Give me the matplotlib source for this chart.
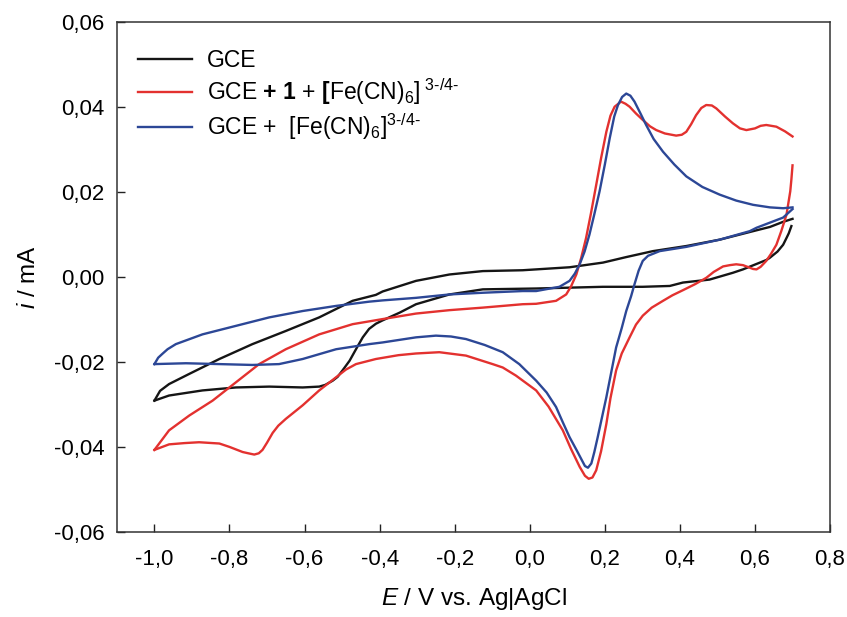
import numpy as np
import matplotlib
matplotlib.use("Agg")
import matplotlib.pyplot as plt
from matplotlib.ticker import FuncFormatter

plt.rcParams['font.family'] = ['Liberation Sans', 'DejaVu Sans']
plt.rcParams['mathtext.fontset'] = 'custom'
plt.rcParams['mathtext.rm'] = 'Liberation Sans'
plt.rcParams['mathtext.it'] = 'Liberation Sans:italic'
plt.rcParams['mathtext.bf'] = 'Liberation Sans:bold'

# GCE (black) - forward and reverse scan
gce_fwd_E = [-1.0, -0.985, -0.961, -0.907, -0.827, -0.739, -0.650, -0.561, -0.472, -0.410,
             -0.392, -0.303, -0.214, -0.125, -0.019, 0.017, 0.106, 0.195, 0.257, 0.328,
             0.417, 0.506, 0.595, 0.640, 0.675, 0.700]
gce_fwd_i = [-0.0291, -0.0268, -0.0252, -0.0228, -0.0193, -0.0158, -0.0127, -0.0095, -0.0056, -0.0042,
             -0.0034, -0.0009, 0.0006, 0.0014, 0.0016, 0.0018, 0.0023, 0.0034, 0.0047, 0.0061,
             0.0073, 0.0088, 0.0108, 0.0118, 0.0130, 0.0137]
gce_rev_E = [0.697, 0.690, 0.684, 0.675, 0.660, 0.639, 0.630, 0.568, 0.541, 0.479,
             0.408, 0.373, 0.301, 0.195, 0.106, 0.017, -0.125, -0.214, -0.303, -0.347,
             -0.392, -0.410, -0.428, -0.445, -0.463, -0.480, -0.499, -0.512, -0.525, -0.545,
             -0.561, -0.605, -0.694, -0.783, -0.872, -0.961, -1.0]
gce_rev_i = [0.0120, 0.0103, 0.0092, 0.0076, 0.0060, 0.0045, 0.0040, 0.0018, 0.0010, -0.0006,
             -0.0013, -0.0021, -0.0023, -0.0023, -0.0025, -0.0027, -0.0029, -0.0041, -0.0064, -0.0084,
             -0.0102, -0.0110, -0.0122, -0.0142, -0.0170, -0.0197, -0.0220, -0.0235, -0.0244, -0.0254,
             -0.0258, -0.0260, -0.0258, -0.0260, -0.0267, -0.0279, -0.0291]

# GCE + 1 + [Fe(CN)6]3-/4- (red)
mod_fwd_E = [-1.0, -0.961, -0.907, -0.845, -0.783, -0.721, -0.650, -0.561, -0.472, -0.392,
             -0.303, -0.214, -0.125, -0.019, 0.017, 0.070, 0.097, 0.110, 0.124, 0.137,
             0.150, 0.163, 0.177, 0.190, 0.204, 0.215, 0.226, 0.243, 0.255, 0.266,
             0.283, 0.301, 0.320, 0.337, 0.360, 0.390, 0.405, 0.417, 0.430, 0.443,
             0.457, 0.470, 0.485, 0.497, 0.520, 0.541, 0.560, 0.577, 0.600, 0.615,
             0.630, 0.657, 0.680, 0.700]
mod_fwd_i = [-0.0407, -0.0361, -0.0326, -0.0291, -0.0248, -0.0205, -0.0170, -0.0135, -0.0111, -0.0099,
             -0.0086, -0.0078, -0.0072, -0.0064, -0.0063, -0.0056, -0.0041, -0.0022, 0.0006, 0.0045,
             0.0092, 0.0150, 0.0217, 0.0280, 0.0342, 0.0380, 0.0401, 0.0413, 0.0408, 0.0401,
             0.0385, 0.0370, 0.0355, 0.0346, 0.0338, 0.0333, 0.0335, 0.0342, 0.0360, 0.0381,
             0.0398, 0.0405, 0.0404, 0.0397, 0.0378, 0.0362, 0.0350, 0.0346, 0.0350, 0.0356,
             0.0358, 0.0354, 0.0343, 0.0331]
mod_rev_E = [0.700, 0.697, 0.694, 0.684, 0.670, 0.657, 0.643, 0.630, 0.615, 0.604,
             0.595, 0.586, 0.568, 0.550, 0.533, 0.515, 0.490, 0.470, 0.440, 0.408,
             0.380, 0.355, 0.325, 0.301, 0.283, 0.266, 0.245, 0.230, 0.215, 0.204,
             0.190, 0.177, 0.167, 0.157, 0.147, 0.133, 0.110, 0.088, 0.050, 0.017,
             -0.037, -0.072, -0.099, -0.170, -0.241, -0.303, -0.350, -0.410, -0.463, -0.490,
             -0.516, -0.561, -0.605, -0.650, -0.670, -0.685, -0.700, -0.712, -0.722, -0.734,
             -0.750, -0.765, -0.800, -0.827, -0.881, -0.920, -0.961, -1.0]
mod_rev_i = [0.0263, 0.0230, 0.0202, 0.0147, 0.0108, 0.0076, 0.0055, 0.0038, 0.0024, 0.0018,
             0.0019, 0.0022, 0.0028, 0.0030, 0.0028, 0.0025, 0.0012, -0.0002, -0.0017, -0.0031,
             -0.0043, -0.0056, -0.0072, -0.0091, -0.0112, -0.0142, -0.0180, -0.0220, -0.0285, -0.0346,
             -0.0410, -0.0455, -0.0472, -0.0475, -0.0468, -0.0447, -0.0405, -0.0361, -0.0305, -0.0267,
             -0.0232, -0.0213, -0.0205, -0.0185, -0.0177, -0.0180, -0.0184, -0.0193, -0.0205, -0.0218,
             -0.0236, -0.0267, -0.0302, -0.0334, -0.0350, -0.0367, -0.0390, -0.0407, -0.0415, -0.0418,
             -0.0415, -0.0412, -0.0400, -0.0392, -0.0389, -0.0391, -0.0394, -0.0407]

# GCE + [Fe(CN)6]3-/4- (blue)
fe_fwd_E = [-1.0, -0.990, -0.979, -0.965, -0.943, -0.872, -0.783, -0.694, -0.605, -0.516,
            -0.428, -0.392, -0.303, -0.214, -0.125, -0.019, 0.017, 0.079, 0.106, 0.120,
            0.133, 0.146, 0.159, 0.172, 0.186, 0.200, 0.213, 0.225, 0.235, 0.246,
            0.257, 0.268, 0.279, 0.295, 0.310, 0.330, 0.355, 0.385, 0.417, 0.460,
            0.506, 0.550, 0.595, 0.640, 0.675, 0.700]
fe_fwd_i = [-0.0205, -0.0190, -0.0181, -0.0170, -0.0158, -0.0135, -0.0115, -0.0095, -0.0080, -0.0068,
            -0.0058, -0.0055, -0.0049, -0.0041, -0.0037, -0.0033, -0.0033, -0.0023, -0.0009, 0.0008,
            0.0030, 0.0060, 0.0100, 0.0148, 0.0202, 0.0265, 0.0327, 0.0378, 0.0405, 0.0424,
            0.0432, 0.0427, 0.0413, 0.0385, 0.0358, 0.0325, 0.0295, 0.0265, 0.0237, 0.0212,
            0.0194, 0.0180, 0.0170, 0.0164, 0.0162, 0.0164]
fe_rev_E = [0.700, 0.675, 0.604, 0.586, 0.506, 0.417, 0.346, 0.315, 0.301, 0.290,
            0.279, 0.270, 0.257, 0.245, 0.230, 0.204, 0.192, 0.181, 0.172, 0.164,
            0.155, 0.147, 0.141, 0.125, 0.106, 0.088, 0.070, 0.045, 0.017, -0.028,
            -0.072, -0.120, -0.170, -0.210, -0.250, -0.303, -0.392, -0.428, -0.516, -0.605,
            -0.668, -0.739, -0.827, -0.916, -1.0]
fe_rev_i = [0.0160, 0.0140, 0.0116, 0.0108, 0.0088, 0.0071, 0.0061, 0.0050, 0.0038, 0.0015,
            -0.0017, -0.0045, -0.0080, -0.0120, -0.0166, -0.0283, -0.0332, -0.0377, -0.0412, -0.0439,
            -0.0449, -0.0445, -0.0435, -0.0408, -0.0377, -0.0342, -0.0306, -0.0272, -0.0244, -0.0205,
            -0.0177, -0.0160, -0.0146, -0.0140, -0.0138, -0.0142, -0.0154, -0.0158, -0.0170, -0.0193,
            -0.0205, -0.0207, -0.0205, -0.0203, -0.0205]

x_ticks = [-1.0, -0.8, -0.6, -0.4, -0.2, 0.0, 0.2, 0.4, 0.6, 0.8]
y_ticks = [-0.06, -0.04, -0.02, 0.00, 0.02, 0.04, 0.06]

labels = ["GCE",
          r"GCE $\mathbf{+\ 1}$ + $\mathbf{[}$Fe(CN)$_6$]$^{\ 3\text{-}/4\text{-}}$",
          r"GCE +  [Fe(CN)$_6$]$^{3\text{-}/4\text{-}}$"]
colors = ["#151515", "#e3312f", "#2c4796"]

fig = plt.figure(figsize=(8.47, 6.17), dpi=100)
ax = fig.add_axes([0.138, 0.138, 0.842, 0.826])

lw = 1.7
ax.plot(gce_fwd_E, gce_fwd_i, color=colors[0], lw=lw, label=labels[0])
ax.plot(gce_rev_E, gce_rev_i, color=colors[0], lw=lw)
ax.plot(mod_fwd_E, mod_fwd_i, color=colors[1], lw=lw, label=labels[1])
ax.plot(mod_rev_E, mod_rev_i, color=colors[1], lw=lw)
ax.plot(fe_fwd_E, fe_fwd_i, color=colors[2], lw=lw, label=labels[2])
ax.plot(fe_rev_E, fe_rev_i, color=colors[2], lw=lw)

ax.set_xlim(-1.1, 0.8)
ax.set_ylim(-0.06, 0.06)
ax.set_xticks(x_ticks)
ax.set_yticks(y_ticks)
ax.xaxis.set_major_formatter(FuncFormatter(lambda v, p: f"{v:.1f}".replace(".", ",")))
ax.yaxis.set_major_formatter(FuncFormatter(lambda v, p: f"{v:.2f}".replace(".", ",").replace("-0,00", "0,00")))
ax.tick_params(direction='in', length=6, width=1.0, labelsize=16, color='#222222')
ax.tick_params(axis='y', pad=9)
ax.tick_params(axis='x', pad=12)
for s in ax.spines.values():
    s.set_linewidth(1.1)
    s.set_color('#333333')

ax.set_xlabel(r"$E$ / V vs. Ag|AgCl", fontsize=17.5, labelpad=12)
ax.set_ylabel(r"$i$ / mA", fontsize=17.5, labelpad=10)

ax.legend(loc='upper left', bbox_to_anchor=(0.029, 0.948), frameon=False,
          fontsize=16.5, handlelength=2.36, handletextpad=0.65,
          borderpad=0, borderaxespad=0, labelspacing=0.2)

fig.savefig("out.png", dpi=100)
